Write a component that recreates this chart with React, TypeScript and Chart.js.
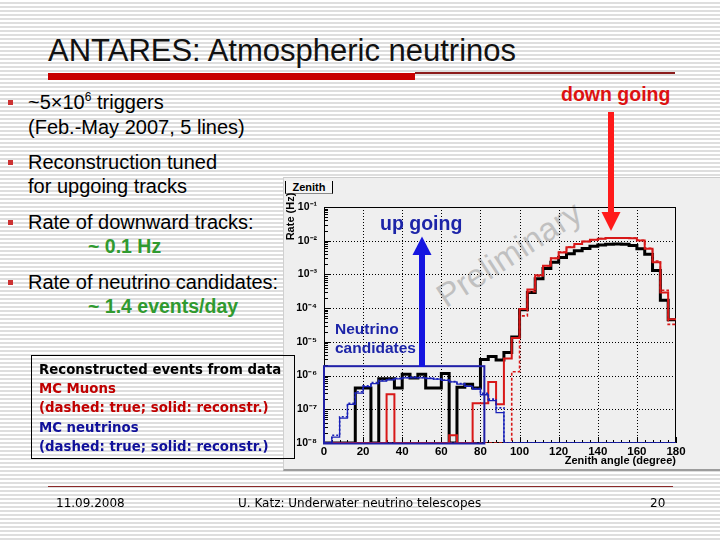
import React, { useEffect, useRef } from "react";
import { Chart, registerables } from "chart.js";

Chart.register(...registerables);

// ---------- data (4-degree bins, rate in Hz) ----------
const binEdges = [0, 4, 8, 12, 16, 20, 24, 28, 32, 36, 40, 44, 48, 52, 56, 60, 64, 68, 72, 76, 80, 84, 88, 92, 96, 100, 104, 108, 112, 116, 120, 124, 128, 132, 136, 140, 144, 148, 152, 156, 160, 164, 168, 172, 176, 180];

const dataRate = [0, 0, 0, 0, 4.3e-7, 4.3e-7, 0, 8e-7, 8e-7, 4.3e-7, 1.1e-6, 8.5e-7, 1.1e-6, 4.3e-7, 4.3e-7, 1.15e-6, 0, 4.5e-7, 5.5e-7, 4.3e-7, 3.0e-6, 3.7e-6, 2.9e-6, 4.8e-6, 1.4e-5, 9.0e-5, 2.9e-4, 7.5e-4, 1.5e-3, 2.3e-3, 3.2e-3, 4.1e-3, 5.0e-3, 5.9e-3, 6.8e-3, 7.4e-3, 7.8e-3, 8.0e-3, 7.9e-3, 7.2e-3, 5.8e-3, 4.0e-3, 1.3e-3, 1.7e-4, 4.5e-5];

const muonReco = [0, 0, 0, 0, 0, 0, 0, 0, 2.8e-7, 0, 0, 0, 0, 0, 0, 0, 1.7e-8, 0, 0, 1.5e-7, 1.5e-7, 6.5e-7, 1.4e-7, 3.2e-6, 1.3e-5, 9.5e-5, 3.6e-4, 9.5e-4, 1.8e-3, 3.0e-3, 4.5e-3, 6.4e-3, 8.0e-3, 9.4e-3, 1.06e-2, 1.15e-2, 1.2e-2, 1.21e-2, 1.21e-2, 1.18e-2, 1.02e-2, 5.8e-3, 2.3e-3, 2.9e-4, 4.7e-5];

const muonTrue = [0, 0, 0, 0, 0, 0, 0, 0, 0, 0, 0, 0, 0, 0, 0, 0, 0, 0, 0, 0, 0, 0, 0, 0, 1.3e-6, 5.9e-5, 3.1e-4, 9.0e-4, 1.8e-3, 3.0e-3, 4.6e-3, 6.5e-3, 8.1e-3, 9.5e-3, 1.07e-2, 1.16e-2, 1.21e-2, 1.22e-2, 1.22e-2, 1.19e-2, 1.03e-2, 6.0e-3, 2.5e-3, 3.4e-4, 3.3e-5];

const nuReco = [0, 1.5e-8, 5.5e-8, 1.4e-7, 3.0e-7, 4.7e-7, 5.8e-7, 6.8e-7, 7.5e-7, 8.0e-7, 8.5e-7, 8.6e-7, 8.5e-7, 8.2e-7, 7.8e-7, 7.2e-7, 6.5e-7, 5.6e-7, 4.8e-7, 4.0e-7, 2.7e-7, 1.8e-7, 8.0e-8, 0, 0, 0, 0, 0, 0, 0, 0, 0, 0, 0, 0, 0, 0, 0, 0, 0, 0, 0, 0, 0, 0];

const nuTrue = [0, 1.7e-8, 6.0e-8, 1.5e-7, 3.3e-7, 5.0e-7, 6.2e-7, 7.2e-7, 7.8e-7, 8.3e-7, 8.8e-7, 9.0e-7, 8.8e-7, 8.5e-7, 8.0e-7, 7.4e-7, 6.6e-7, 5.8e-7, 5.0e-7, 4.1e-7, 3.0e-7, 2.0e-7, 1.1e-7, 0, 0, 0, 0, 0, 0, 0, 0, 0, 0, 0, 0, 0, 0, 0, 0, 0, 0, 0, 0, 0, 0];

const xTickValues = [0, 20, 40, 60, 80, 100, 120, 140, 160, 180];
const yDecades = [1e-8, 1e-7, 1e-6, 1e-5, 1e-4, 1e-3, 1e-2, 1e-1];
const yMinorMultipliers = [2, 3, 4, 5, 6, 7, 8, 9];
const candidateBoxAngle = [0, 82];
const candidateBoxRate = [1e-8, 1.9e-6];

const Y_MIN = 1e-8;
const Y_MAX = 1e-1;

const RED = "#d81818";
const BLUE = "#1a22b8";

const SUP: Record<string, string> = { "-": "⁻", "0": "⁰", "1": "¹", "2": "²", "3": "³", "4": "⁴", "5": "⁵", "6": "⁶", "7": "⁷", "8": "⁸", "9": "⁹" };
const powLabel = (e: number) => "10" + String(e).split("").map((c) => SUP[c] || c).join("");

const toSteps = (vals: number[]) => {
  const pts = vals.map((v, i) => ({ x: binEdges[i], y: v > 0 ? v : Y_MIN }));
  const last = vals[vals.length - 1];
  pts.push({ x: binEdges[vals.length], y: last > 0 ? last : Y_MIN });
  return pts;
};

const SANS = '"Liberation Sans", Arial, sans-serif';

const rootFrame = {
  id: "rootFrame",
  beforeDatasetsDraw(chart: any) {
    const { ctx, chartArea: a, scales } = chart;
    const x = scales.x;
    const y = scales.y;
    ctx.save();
    ctx.strokeStyle = "#000";
    ctx.lineWidth = 1;
    ctx.setLineDash([1, 2]);
    ctx.beginPath();
    for (const v of xTickValues.slice(1, -1)) {
      const px = Math.round(x.getPixelForValue(v)) + 0.5;
      ctx.moveTo(px, a.top);
      ctx.lineTo(px, a.bottom);
    }
    for (const v of yDecades.slice(1, -1)) {
      const py = Math.round(y.getPixelForValue(v)) + 0.5;
      ctx.moveTo(a.left, py);
      ctx.lineTo(a.right, py);
    }
    ctx.stroke();
    ctx.setLineDash([]);
    ctx.strokeRect(Math.round(a.left) + 0.5, Math.round(a.top) + 0.5, Math.round(a.right - a.left) - 1, Math.round(a.bottom - a.top) - 1);
    ctx.beginPath();
    yDecades.forEach((d, i) => {
      const py = Math.round(y.getPixelForValue(d)) + 0.5;
      ctx.moveTo(a.left, py);
      ctx.lineTo(a.left + 7, py);
      if (i < yDecades.length - 1) {
        for (const m of yMinorMultipliers) {
          const pm = Math.round(y.getPixelForValue(d * m)) + 0.5;
          ctx.moveTo(a.left, pm);
          ctx.lineTo(a.left + 4, pm);
        }
      }
    });
    for (let v = 0; v <= 180; v += 4) {
      const px = Math.round(x.getPixelForValue(v)) + 0.5;
      const len = v % 20 === 0 ? 6 : 3;
      ctx.moveTo(px, a.bottom);
      ctx.lineTo(px, a.bottom - len);
    }
    ctx.stroke();
    ctx.restore();
  },
  afterDatasetsDraw(chart: any) {
    const { ctx, scales } = chart;
    const x = scales.x;
    const y = scales.y;
    ctx.save();
    const x0 = x.getPixelForValue(candidateBoxAngle[0]);
    const x1 = x.getPixelForValue(candidateBoxAngle[1]);
    const y0 = y.getPixelForValue(candidateBoxRate[1]);
    const y1 = y.getPixelForValue(candidateBoxRate[0]);
    ctx.strokeStyle = "#2020a8";
    ctx.lineWidth = 2;
    ctx.strokeRect(x0, y0, x1 - x0, y1 - y0 + 0.5);
    ctx.translate(8, 39.5);
    ctx.rotate(-Math.PI / 2);
    ctx.fillStyle = "#000";
    ctx.font = `bold 11px ${SANS}`;
    ctx.textAlign = "center";
    ctx.textBaseline = "middle";
    ctx.fillText("Rate (Hz)", 0, 0);
    ctx.restore();
  },
};

function ZenithChart() {
  const ref = useRef<HTMLCanvasElement | null>(null);
  useEffect(() => {
    if (!ref.current) return;
    const chart = new Chart(ref.current, {
      type: "line",
      data: {
        datasets: [
          { label: "MC neutrinos (reconstr.)", data: toSteps(nuReco), borderColor: BLUE, borderWidth: 1.3, stepped: "before", pointRadius: 0, fill: false },
          { label: "MC neutrinos (true)", data: toSteps(nuTrue), borderColor: BLUE, borderWidth: 1.6, borderDash: [2, 2], stepped: "before", pointRadius: 0, fill: false },
          { label: "MC muons (reconstr.)", data: toSteps(muonReco), borderColor: RED, borderWidth: 2, stepped: "before", pointRadius: 0, fill: false },
          { label: "MC muons (true)", data: toSteps(muonTrue), borderColor: RED, borderWidth: 1.6, borderDash: [3, 2], stepped: "before", pointRadius: 0, fill: false },
          { label: "Data", data: toSteps(dataRate), borderColor: "#000", borderWidth: 3, stepped: "before", pointRadius: 0, fill: false },
        ] as any,
      },
      options: {
        animation: false,
        responsive: false,
        maintainAspectRatio: false,
        events: [],
        layout: { padding: { left: 0, top: 30, right: 44, bottom: 0 } },
        plugins: { legend: { display: false }, tooltip: { enabled: false }, title: { display: false } },
        elements: { point: { radius: 0 }, line: { tension: 0 } },
        scales: {
          x: {
            type: "linear",
            min: 0,
            max: 180,
            afterBuildTicks: (s: any) => {
              s.ticks = xTickValues.map((v) => ({ value: v }));
            },
            afterFit: (s: any) => {
              s.height = 28;
            },
            grid: { display: false, drawTicks: false },
            border: { display: false },
            ticks: {
              autoSkip: false,
              maxRotation: 0,
              color: "#000",
              padding: 2,
              font: { family: SANS, size: 11.5, weight: "bold" },
            },
            title: {
              display: true,
              text: "Zenith angle (degree)",
              align: "end",
              color: "#000",
              font: { family: SANS, size: 11, weight: "bold" },
              padding: { top: 0, bottom: 3 },
            },
          },
          y: {
            type: "logarithmic",
            min: Y_MIN,
            max: Y_MAX,
            afterBuildTicks: (s: any) => {
              s.ticks = yDecades.map((v) => ({ value: v, major: true }));
            },
            afterFit: (s: any) => {
              s.width = 41;
            },
            grid: { display: false, drawTicks: false },
            border: { display: false },
            ticks: {
              autoSkip: false,
              color: "#000",
              padding: 7,
              font: { family: SANS, size: 10.5, weight: "bold" },
              callback: (v: any) => powLabel(Math.round(Math.log10(Number(v)))),
            },
          },
        },
      } as any,
      plugins: [rootFrame],
    });
    return () => chart.destroy();
  }, []);
  return <canvas ref={ref} width={437} height={294} style={{ position: "absolute", left: 283, top: 177, width: 437, height: 294 }} />;
}

const T = ({ x, base, size, children, style }: any) => (
  <div
    style={{
      position: "absolute",
      left: x,
      top: base - 0.846 * size,
      fontSize: size,
      lineHeight: size + "px",
      whiteSpace: "nowrap",
      fontFamily: SANS,
      color: "#000",
      ...style,
    }}
  >
    {children}
  </div>
);

const Bullet = ({ base }: { base: number }) => (
  <div style={{ position: "absolute", left: 8, top: base - 9, width: 5, height: 5, background: "#cc3333" }} />
);

const GREEN = "#2f9a2f";
const LEG = '"DejaVu Sans", Verdana, sans-serif';
const FOOT = '"DejaVu Sans", Tahoma, sans-serif';

export default function App() {
  return (
    <div
      style={{
        position: "fixed",
        left: 0,
        top: 0,
        width: 720,
        height: 540,
        overflow: "hidden",
        background: "repeating-linear-gradient(to bottom, #ffffff 0px, #ffffff 2px, #dedede 2px, #dedede 4px)",
        fontFamily: SANS,
      }}
    >
      <T x={48} base={61} size={31} style={{ color: "#111" }}>ANTARES: Atmospheric neutrinos</T>
      <div style={{ position: "absolute", left: 48, top: 73, width: 367, height: 7, background: "#c80000" }} />
      <div style={{ position: "absolute", left: 415, top: 72, width: 260, height: 1.5, background: "#8b1c1c" }} />

      <Bullet base={109} />
      <T x={28} base={109} size={20}>
        ~5×10<span style={{ fontSize: 12, position: "relative", top: -8, lineHeight: "1px" }}>6</span> triggers
      </T>
      <T x={28} base={134} size={20}>(Feb.-May 2007, 5 lines)</T>
      <Bullet base={169} />
      <T x={28} base={169} size={20}>Reconstruction tuned</T>
      <T x={28} base={193} size={20}>for upgoing tracks</T>
      <Bullet base={229} />
      <T x={28} base={229} size={20}>Rate of downward tracks:</T>
      <T x={88} base={253} size={19.5} style={{ color: GREEN, fontWeight: "bold" }}>~ 0.1 Hz</T>
      <Bullet base={289} />
      <T x={28} base={289} size={20}>Rate of neutrino candidates:</T>
      <T x={88} base={313} size={19.5} style={{ color: GREEN, fontWeight: "bold" }}>~ 1.4 events/day</T>

      <div
        style={{
          position: "absolute",
          left: 283,
          top: 177,
          width: 437,
          height: 294,
          boxSizing: "border-box",
          background: "#efefef",
          borderTop: "1px solid #cccccc",
          borderLeft: "1px solid #d0d0d0",
          borderBottom: "2px solid #9c9c9c",
        }}
      />
      <div
        style={{
          position: "absolute",
          left: 285,
          top: 181,
          width: 48,
          height: 13,
          boxSizing: "border-box",
          background: "#f4f4f4",
          borderLeft: "1.5px solid #000",
          borderRight: "1px solid #000",
          borderBottom: "1px solid #888",
          fontFamily: SANS,
          fontWeight: "bold",
          fontSize: 11,
          lineHeight: "12px",
          textAlign: "center",
        }}
      >
        Zenith
      </div>
      <div
        style={{
          position: "absolute",
          left: 509,
          top: 254,
          transform: "translate(-50%, -50%) rotate(-33deg)",
          fontFamily: SANS,
          fontSize: 33,
          color: "#c0c0c0",
          whiteSpace: "nowrap",
          lineHeight: "33px",
        }}
      >
        Preliminary
      </div>
      <ZenithChart />

      <T x={561} base={101.5} size={19.5} style={{ color: "#dd1111", fontWeight: "bold" }}>down going</T>
      <T x={380} base={230} size={19.5} style={{ color: "#1c24a8", fontWeight: "bold" }}>up going</T>
      <T x={335} base={334.5} size={15.5} style={{ color: "#1c24a8", fontWeight: "bold" }}>Neutrino</T>
      <T x={335} base={353.5} size={15.5} style={{ color: "#1c24a8", fontWeight: "bold" }}>candidates</T>
      <svg width={720} height={540} style={{ position: "absolute", left: 0, top: 0, pointerEvents: "none" }}>
        <rect x={608} y={112} width={6} height={101} fill="#ff1a1a" />
        <polygon points="601.5,212 620.5,212 611,231" fill="#ff1a1a" />
        <rect x={419} y={254} width={6} height={113} fill="#1515e0" />
        <polygon points="412.5,255 431.5,255 422,236.5" fill="#1515e0" />
      </svg>

      <div style={{ position: "absolute", left: 31, top: 355, width: 264, height: 104, boxSizing: "border-box", border: "1px solid #000" }} />
      <T x={39} base={374} size={13.3} style={{ fontFamily: LEG, fontWeight: "bold", color: "#000" }}>Reconstructed events from data</T>
      <T x={39} base={393} size={13.3} style={{ fontFamily: LEG, fontWeight: "bold", color: "#c00000" }}>MC Muons</T>
      <T x={39} base={412.5} size={13.3} style={{ fontFamily: LEG, fontWeight: "bold", color: "#c00000" }}>(dashed: true; solid: reconstr.)</T>
      <T x={39} base={432} size={13.3} style={{ fontFamily: LEG, fontWeight: "bold", color: "#10109a" }}>MC neutrinos</T>
      <T x={39} base={451} size={13.3} style={{ fontFamily: LEG, fontWeight: "bold", color: "#10109a" }}>(dashed: true; solid: reconstr.)</T>

      <div style={{ position: "absolute", left: 48, top: 485.5, width: 625, height: 1.5, background: "#8b2a2a" }} />
      <T x={56} base={507} size={12} style={{ fontFamily: FOOT }}>11.09.2008</T>
      <T x={238} base={507} size={12} style={{ fontFamily: FOOT }}>U. Katz: Underwater neutrino telescopes</T>
      <T x={650} base={507} size={12} style={{ fontFamily: FOOT }}>20</T>
    </div>
  );
}
